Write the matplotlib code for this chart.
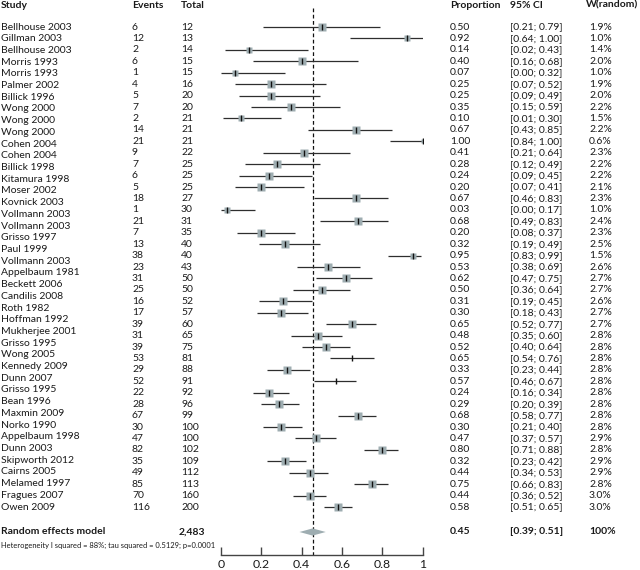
import numpy as np
import matplotlib
matplotlib.use("Agg")
import matplotlib.pyplot as plt
import matplotlib.transforms as mtransforms

plt.rcParams['font.family'] = ['Lato', 'DejaVu Sans']

# study names (42 labels in the original, spread over the 43 data rows)
studies = ["Bellhouse 2003", "Gillman 2003", "Bellhouse 2003", "Morris 1993", "Morris 1993",
           "Palmer 2002", "Billick 1996", "Wong 2000", "Wong 2000", "Wong 2000",
           "Cohen 2004", "Cohen 2004", "Billick 1998", "Kitamura 1998", "Moser 2002",
           "Kovnick 2003", "Vollmann 2003", "Vollmann 2003", "Grisso 1997", "Paul 1999",
           "Vollmann 2003", "Appelbaum 1981", "Beckett 2006", "Candilis 2008", "Roth 1982",
           "Hoffman 1992", "Mukherjee 2001", "Grisso 1995", "Wong 2005", "Kennedy 2009",
           "Dunn 2007", "Grisso 1995", "Bean 1996", "Maxmin 2009", "Norko 1990",
           "Appelbaum 1998", "Dunn 2003", "Skipworth 2012", "Cairns 2005", "Melamed 1997",
           "Fragues 2007", "Owen 2009"]
events = [6, 12, 2, 6, 1, 4, 5, 7, 2, 14, 21, 9, 7, 6, 5, 18, 1, 21, 7, 13, 38, 23, 31,
          25, 16, 17, 39, 31, 39, 53, 29, 52, 22, 28, 67, 30, 47, 82, 35, 49, 85, 70, 116]
totals = [12, 13, 14, 15, 15, 16, 20, 20, 21, 21, 21, 22, 25, 25, 25, 27, 30, 31, 35, 40,
          40, 43, 50, 50, 52, 57, 60, 65, 75, 81, 88, 91, 92, 96, 99, 100, 100, 102, 109,
          112, 113, 160, 200]
prop = [0.50, 0.92, 0.14, 0.40, 0.07, 0.25, 0.25, 0.35, 0.10, 0.67, 1.00, 0.41, 0.28, 0.24,
        0.20, 0.67, 0.03, 0.68, 0.20, 0.32, 0.95, 0.53, 0.62, 0.50, 0.31, 0.30, 0.65, 0.48,
        0.52, 0.65, 0.33, 0.57, 0.24, 0.29, 0.68, 0.30, 0.47, 0.80, 0.32, 0.44, 0.75, 0.44,
        0.58]
ci_lo = [0.21, 0.64, 0.02, 0.16, 0.00, 0.07, 0.09, 0.15, 0.01, 0.43, 0.84, 0.21, 0.12, 0.09,
         0.07, 0.46, 0.00, 0.49, 0.08, 0.19, 0.83, 0.38, 0.47, 0.36, 0.19, 0.18, 0.52, 0.35,
         0.40, 0.54, 0.23, 0.46, 0.16, 0.20, 0.58, 0.21, 0.37, 0.71, 0.23, 0.34, 0.66, 0.36,
         0.51]
ci_hi = [0.79, 1.00, 0.43, 0.68, 0.32, 0.52, 0.49, 0.59, 0.30, 0.85, 1.00, 0.64, 0.49, 0.45,
         0.41, 0.83, 0.17, 0.83, 0.37, 0.49, 0.99, 0.69, 0.75, 0.64, 0.45, 0.43, 0.77, 0.60,
         0.64, 0.76, 0.44, 0.67, 0.34, 0.39, 0.77, 0.40, 0.57, 0.88, 0.42, 0.53, 0.83, 0.52,
         0.65]
weights = [1.9, 1.0, 1.4, 2.0, 1.0, 1.9, 2.0, 2.2, 1.5, 2.2, 0.6, 2.3, 2.2, 2.2, 2.1, 2.3,
           1.0, 2.4, 2.3, 2.5, 1.5, 2.6, 2.7, 2.7, 2.6, 2.7, 2.7, 2.8, 2.8, 2.8, 2.8, 2.8,
           2.8, 2.8, 2.8, 2.8, 2.9, 2.8, 2.9, 2.9, 2.8, 3.0, 3.0]
no_square = [29, 31]  # rows drawn without a box in the original

summary_est = 0.455
summary_lo = 0.39
summary_hi = 0.52
summary_text = ["0.45", "[0.39; 0.51]", "100%"]
total_n = "2,483"
het_text = "Heterogeneity I squared = 88%; tau squared = 0.5129; p=0.0001"

txt_col = '#1a1a1a'
box_col = '#9eadb1'
line_col = '#2e2e2e'

fig = plt.figure(figsize=(6.4, 5.7), dpi=100)
W, H = 640.0, 570.0
row0, step = 27.0, 11.43          # pixel y of first row, row spacing
axis_px = 555.0
ax = fig.add_axes([220.7 / W, 1 - axis_px / H, 202 / W, axis_px / H])
ax.set_xlim(0, 1)
ax.set_ylim((axis_px - row0) / step, -row0 / step)

n = len(prop)
rows = np.arange(n)
y_head = (5 - row0) / step
y_sum = (532 - row0) / step
y_het = (545 - row0) / step

for i in rows:
    ax.plot([ci_lo[i], ci_hi[i]], [i, i], color=line_col, lw=0.9, solid_capstyle='butt', zorder=2)
    if i not in no_square:
        ax.plot(prop[i], i, marker='s', ms=3.7 * np.sqrt(weights[i]), color=box_col,
                mec='none', zorder=3)
    ax.plot(prop[i], i, marker='|', ms=4, mew=1.0, color='#111111', zorder=4)

# summary diamond
hh = 3.6 / step
ax.fill([summary_lo, summary_est, summary_hi, summary_est],
        [y_sum, y_sum - hh, y_sum, y_sum + hh], color=box_col, lw=0, zorder=3)
ax.plot([summary_est, summary_est], [(8 - row0) / step, (axis_px - row0) / step],
        color='#111111', lw=0.9, dashes=(3, 2), zorder=1)

for s in ['top', 'left', 'right']:
    ax.spines[s].set_visible(False)
ax.spines['bottom'].set_color('#444444')
ax.spines['bottom'].set_linewidth(1.0)
ax.set_yticks([])
ax.set_xticks([0, 0.2, 0.4, 0.6, 0.8, 1.0])
ax.set_xticklabels(['0', '0.2', '0.4', '0.6', '0.8', '1'])
ax.tick_params(axis='x', direction='in', length=6, width=1.0, color='#444444',
               labelsize=8.8, labelcolor=txt_col, pad=3)
ax.patch.set_visible(False)

tr = mtransforms.blended_transform_factory(fig.transFigure, ax.transData)


def put(xpx, y, s, bold=False, size=7.5, ha='left'):
    ax.text(xpx / W, y, s, transform=tr, ha=ha, va='center', fontsize=size,
            color=txt_col, fontweight='bold' if bold else 'normal')


# headers
for xpx, s in [(1, "Study"), (132, "Events"), (181, "Total"),
               (450, "Proportion"), (510, "95% CI")]:
    put(xpx, y_head, s, bold=True)
put(638, y_head, "W(random)", bold=True, ha='right')

# names spread evenly over the same span as the data rows
name_y = np.linspace(0, n - 1, len(studies))
for yy, s in zip(name_y, studies):
    put(1, yy, s)

for i in rows:
    put(132, i, str(events[i]))
    put(181, i, str(totals[i]))
    put(450, i, "%.2f" % prop[i])
    put(510, i, "[%.2f; %.2f]" % (ci_lo[i], ci_hi[i]))
    put(589, i, "%.1f%%" % weights[i])

put(1, y_sum, "Random effects model", bold=True)
put(179, y_sum, total_n, bold=True)
put(450, y_sum, summary_text[0], bold=True)
put(510, y_sum, summary_text[1], bold=True)
put(589, y_sum, summary_text[2], bold=True)
put(1, y_het, het_text, size=5.4)

fig.savefig("out.png", dpi=100)
